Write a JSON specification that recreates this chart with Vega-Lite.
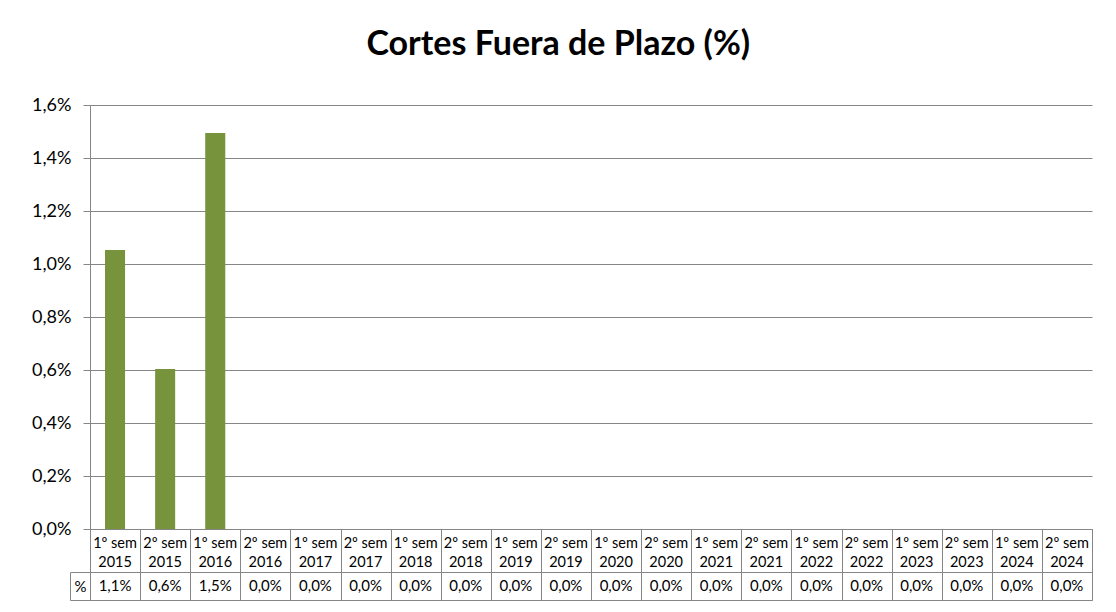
{
  "$schema": "https://vega.github.io/schema/vega-lite/v6.json",
  "background": "white",
  "padding": {"left": 0, "top": 28, "right": 0, "bottom": 0},
  "title": {
    "text": "Cortes Fuera de Plazo (%)",
    "font": "Lato",
    "fontSize": 34,
    "fontWeight": "bold",
    "color": "black",
    "anchor": "middle",
    "dx": 12,
    "offset": 34
  },
  "data": {
    "values": [
      {"periodo": "1º sem\n2015", "valor": 1.053, "tabla": "1,1%"},
      {"periodo": "2º sem\n2015", "valor": 0.604, "tabla": "0,6%"},
      {"periodo": "1º sem\n2016", "valor": 1.494, "tabla": "1,5%"},
      {"periodo": "2º sem\n2016", "valor": 0, "tabla": "0,0%"},
      {"periodo": "1º sem\n2017", "valor": 0, "tabla": "0,0%"},
      {"periodo": "2º sem\n2017", "valor": 0, "tabla": "0,0%"},
      {"periodo": "1º sem\n2018", "valor": 0, "tabla": "0,0%"},
      {"periodo": "2º sem\n2018", "valor": 0, "tabla": "0,0%"},
      {"periodo": "1º sem\n2019", "valor": 0, "tabla": "0,0%"},
      {"periodo": "2º sem\n2019", "valor": 0, "tabla": "0,0%"},
      {"periodo": "1º sem\n2020", "valor": 0, "tabla": "0,0%"},
      {"periodo": "2º sem\n2020", "valor": 0, "tabla": "0,0%"},
      {"periodo": "1º sem\n2021", "valor": 0, "tabla": "0,0%"},
      {"periodo": "2º sem\n2021", "valor": 0, "tabla": "0,0%"},
      {"periodo": "1º sem\n2022", "valor": 0, "tabla": "0,0%"},
      {"periodo": "2º sem\n2022", "valor": 0, "tabla": "0,0%"},
      {"periodo": "1º sem\n2023", "valor": 0, "tabla": "0,0%"},
      {"periodo": "2º sem\n2023", "valor": 0, "tabla": "0,0%"},
      {"periodo": "1º sem\n2024", "valor": 0, "tabla": "0,0%"},
      {"periodo": "2º sem\n2024", "valor": 0, "tabla": "0,0%"}
    ]
  },
  "bounds": "flush",
  "spacing": 0,
  "vconcat": [
    {
      "width": 1002,
      "height": 424,
      "view": {"stroke": null},
      "mark": {"type": "bar", "color": "#77933C", "width": {"band": 0.4}},
      "encoding": {
        "x": {
          "field": "periodo",
          "type": "nominal",
          "sort": null,
          "scale": {"type": "band", "paddingInner": 0, "paddingOuter": 0},
          "axis": null
        },
        "y": {
          "field": "valor",
          "type": "quantitative",
          "scale": {"domain": [0, 1.6], "nice": false},
          "axis": {
            "title": null,
            "values": [0, 0.2, 0.4, 0.6, 0.8, 1.0, 1.2, 1.4, 1.6],
            "labelExpr": "replace(format(datum.value, '.1f'), '.', ',') + '%'",
            "grid": true,
            "gridColor": "#868686",
            "gridOpacity": 1,
            "domainColor": "#868686",
            "tickColor": "#868686",
            "tickSize": 7,
            "labelPadding": 12,
            "labelFont": "Lato",
            "labelFontSize": 18,
            "labelColor": "black",
            "minExtent": 90
          }
        }
      }
    },
    {
      "width": 1002,
      "height": 43,
      "view": {"stroke": "#868686"},
      "mark": {"type": "text", "lineBreak": "\n", "font": "Lato", "fontSize": 14.5, "lineHeight": 19, "dy": -7, "color": "black"},
      "encoding": {
        "x": {
          "field": "periodo",
          "type": "nominal",
          "sort": null,
          "scale": {"type": "band", "paddingInner": 0, "paddingOuter": 0},
          "axis": {
            "title": null,
            "grid": true,
            "tickBand": "extent",
            "gridColor": "#868686",
            "gridOpacity": 1,
            "labels": false,
            "ticks": false,
            "domain": false
          }
        },
        "text": {"field": "periodo"}
      }
    },
    {
      "width": 1002,
      "height": 28,
      "view": {"stroke": "#868686"},
      "mark": {"type": "text", "font": "Lato", "fontSize": 15, "color": "black"},
      "encoding": {
        "x": {
          "field": "periodo",
          "type": "nominal",
          "sort": null,
          "scale": {"type": "band", "paddingInner": 0, "paddingOuter": 0},
          "axis": {
            "title": null,
            "grid": true,
            "tickBand": "extent",
            "gridColor": "#868686",
            "gridOpacity": 1,
            "labels": false,
            "ticks": false,
            "domain": false
          }
        },
        "y": {
          "datum": "%",
          "type": "nominal",
          "scale": {"type": "band", "paddingInner": 0, "paddingOuter": 0},
          "axis": {
            "title": null,
            "offset": 20,
            "domainColor": "#868686",
            "tickBand": "extent",
            "tickSize": -20,
            "tickColor": "#868686",
            "labelAlign": "center",
            "labelPadding": 10,
            "labelFont": "Lato",
            "labelFontSize": 15,
            "labelColor": "black"
          }
        },
        "text": {"field": "tabla"}
      }
    }
  ]
}
